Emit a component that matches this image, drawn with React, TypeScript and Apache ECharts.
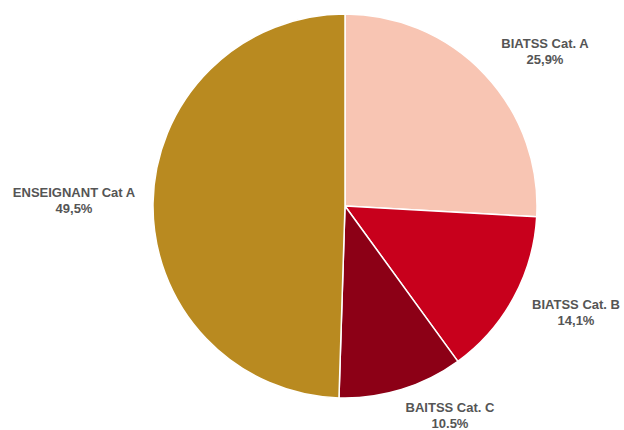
import React, { useEffect, useRef } from "react";
import * as echarts from "echarts";

const categories = ["BIATSS Cat. A", "BIATSS Cat. B", "BAITSS Cat. C", "ENSEIGNANT Cat A"];
const values = [25.9, 14.1, 10.5, 49.5];
const percentLabels = ["25,9%", "14,1%", "10.5%", "49,5%"];

const colors = ["#F8C5B3", "#C8001C", "#8C0016", "#B98A20"];
const labelPositions: [number, number][] = [
  [545, 51],
  [576, 312],
  [450, 415],
  [74, 200],
];

export default function App() {
  const ref = useRef<HTMLDivElement>(null);
  useEffect(() => {
    document.body.style.margin = "0";
    const chart = echarts.init(ref.current!, null, { renderer: "svg" });
    chart.setOption({
      animation: false,
      backgroundColor: "#ffffff",
      series: [
        {
          type: "pie",
          center: [345, 206],
          radius: 192,
          startAngle: 90,
          clockwise: true,
          data: categories.map((name, i) => ({
            name,
            value: values[i],
            itemStyle: { color: colors[i] },
          })),
          itemStyle: { borderColor: "#ffffff", borderWidth: 1.5 },
          label: {
            show: true,
            position: "outside",
            overflow: "none",
            formatter: (p: any) => `${p.name}\n${percentLabels[p.dataIndex]}`,
            fontFamily: "Liberation Sans, Arial, sans-serif",
            fontWeight: "bold",
            fontSize: 13,
            lineHeight: 16,
            color: "#555555",
            align: "center",
          },
          labelLine: { show: false },
          labelLayout: (params: any) => {
            const pos = labelPositions[params.dataIndex];
            return { x: pos[0], y: pos[1], align: "center", verticalAlign: "middle" };
          },
          emphasis: { disabled: true },
        },
      ],
    });
    return () => chart.dispose();
  }, []);
  return <div ref={ref} style={{ width: 624, height: 430 }} />;
}
